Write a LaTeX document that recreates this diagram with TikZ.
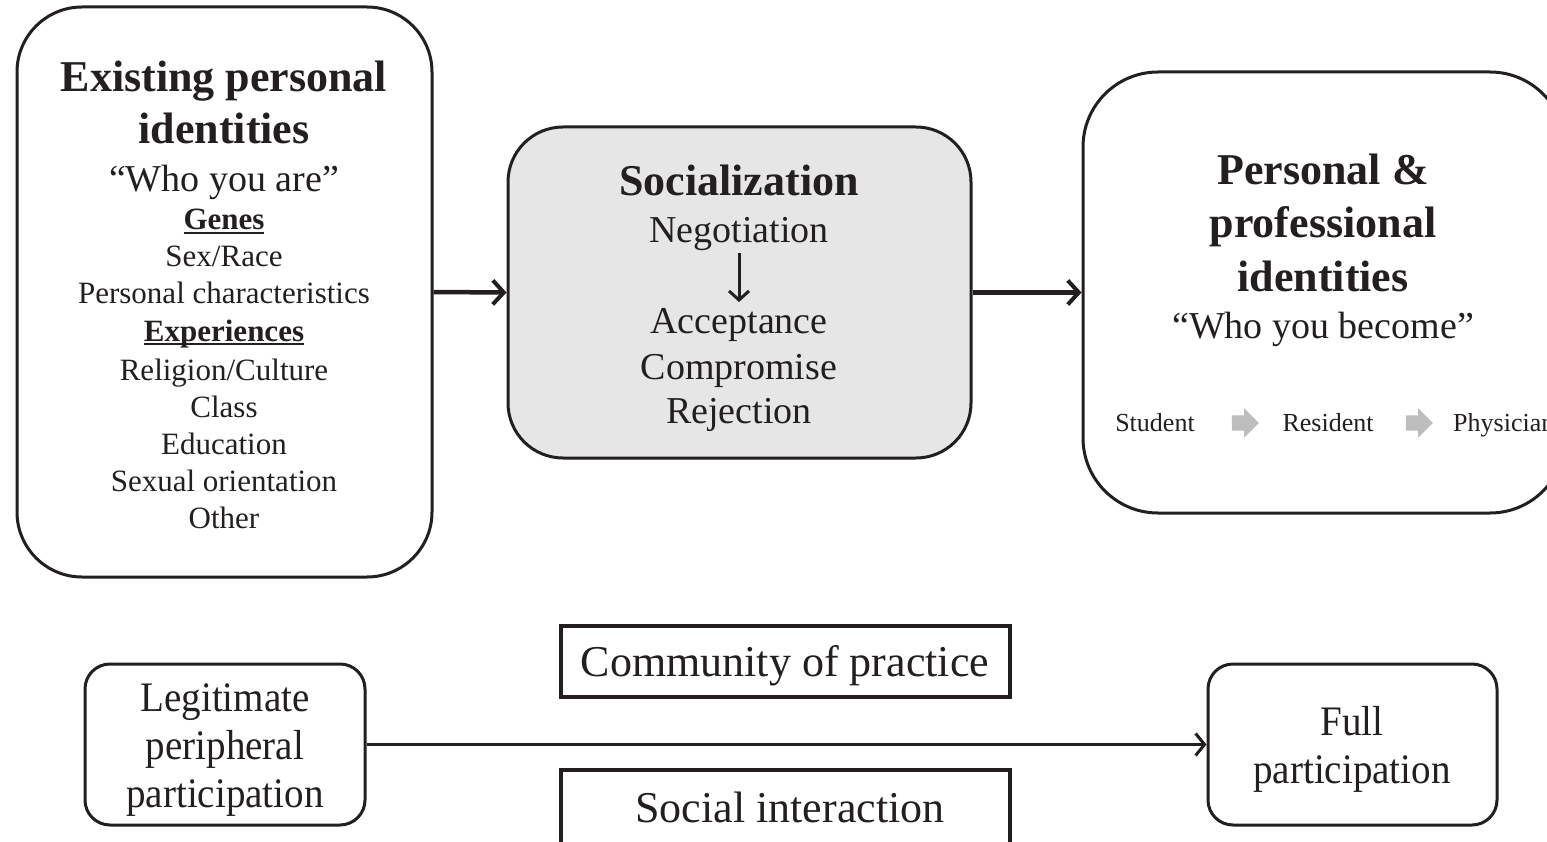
\documentclass[tikz,border=0pt]{standalone}
\usepackage{fontspec}
\setmainfont{Liberation Serif}
\usetikzlibrary{arrows.meta,shapes.arrows}
\definecolor{boxgray}{HTML}{E6E6E6}
\definecolor{arrgray}{HTML}{BDBDBD}
\definecolor{ink}{HTML}{231F20}
\newcommand\fTitle{\fontsize{44}{53}\selectfont\bfseries}
\newcommand\fQuote{\fontsize{38}{45}\selectfont}
\newcommand\fSmall{\fontsize{31}{37}\selectfont}
\newcommand\fMid{\fontsize{38}{45}\selectfont}
\newcommand\fTiny{\fontsize{26}{30}\selectfont}
\newcommand\fBot{\fontsize{42}{48}\selectfont}
\newcommand\fLab{\fontsize{44}{50}\selectfont}
\newcommand\myul[1]{\setbox0\hbox{#1}\rlap{\rule[-4.5pt]{\wd0}{2.2pt}}\box0}
\newcommand\narrow[1]{\scalebox{0.93}[1]{#1}}
\begin{document}
\begin{tikzpicture}[x=1pt,y=-1pt,
  rbox/.style={draw=ink, line width=3pt, inner sep=0pt},
  sqbox/.style={draw=ink, line width=4pt, inner sep=0pt},
  txt/.style={inner sep=0pt, anchor=base, text=ink},
  bigarr/.style={draw=ink, line width=4.5pt, -{Straight Barb[length=11pt,width=24pt,line width=4pt]}},
  midarr/.style={draw=ink, line width=3pt, -{Straight Barb[length=9pt,width=20pt,line width=3pt]}},
  thinarr/.style={draw=ink, line width=3pt, -{Straight Barb[length=9pt,width=22pt,line width=3pt]}},
  grayarr/.style={single arrow, fill=arrgray, draw=none, inner sep=7.5pt, minimum height=27pt, minimum width=29pt, single arrow head extend=7pt}]
\useasboundingbox (0,0) rectangle (1547,842);
\clip (0,0) rectangle (1547,842);
\fill[white] (0,0) rectangle (1547,842);

% main boxes
\node[rbox, rounded corners=65pt, minimum width=415pt, minimum height=570pt] (left) at (224.5,292) {};
\node[rbox, fill=boxgray, rounded corners=55pt, minimum width=463pt, minimum height=331pt] (mid) at (739.5,292.5) {};
\node[rbox, rounded corners=75pt, minimum width=482pt, minimum height=441pt] (right) at (1324,292.5) {};

% left text
\node[txt, font=\fTitle] (l1) at (224,92) {Existing personal};
\node[txt, font=\fTitle] (l2) at (224,144) {identities};
\node[txt, font=\fQuote] (l3) at (224,192) {“Who you are”};
\node[txt, font=\fSmall\bfseries] (l4) at (224,230) {\myul{Genes}};
\node[txt, font=\fSmall] (l5) at (224,267) {Sex/Race};
\node[txt, font=\fSmall] (l6) at (224,304) {Personal characteristics};
\node[txt, font=\fSmall\bfseries] (l7) at (224,341) {\myul{Experiences}};
\node[txt, font=\fSmall] (l8) at (224,380) {Religion/Culture};
\node[txt, font=\fSmall] (l9) at (224,417) {Class};
\node[txt, font=\fSmall] (l10) at (224,454) {Education};
\node[txt, font=\fSmall] (l11) at (224,491) {Sexual orientation};
\node[txt, font=\fSmall] (l12) at (224,528) {Other};

% middle text
\node[txt, font=\fTitle] (m1) at (739,196) {Socialization};
\node[txt, font=\fMid] (m2) at (739,243) {Negotiation};
\node[txt, font=\fMid] (m3) at (739,333) {Acceptance};
\node[txt, font=\fMid] (m4) at (739,379) {Compromise};
\node[txt, font=\fMid] (m5) at (739,423) {Rejection};
\coordinate (na) at (739,253);
\coordinate (nb) at (739,302);
\draw[midarr] (na) -- (nb);

% right text
\node[txt, font=\fTitle] (r1) at (1323,185) {Personal \&};
\node[txt, font=\fTitle] (r2) at (1323,238) {professional};
\node[txt, font=\fTitle] (r3) at (1323,291) {identities};
\node[txt, font=\fQuote] (r4) at (1323,338) {“Who you become”};
\node[txt, font=\fTiny] (s1) at (1155,431) {Student};
\node[grayarr] (ga1) at (1241.5,423) {};
\node[txt, font=\fTiny] (s2) at (1328,431) {Resident};
\node[grayarr] (ga2) at (1415.5,423) {};
\node[txt, font=\fTiny, anchor=base west] (s3) at (1453,431) {Physician};

% connectors
\draw[bigarr] (left.east) -- (mid.west);
\draw[bigarr] (mid.east) -- (right.west);

% bottom row
\node[rbox, rounded corners=25pt, minimum width=280pt, minimum height=161pt] (lpp) at (225,744.5) {};
\node[rbox, rounded corners=25pt, minimum width=289pt, minimum height=161pt] (full) at (1352.5,744.5) {};
\node[txt, font=\fBot] (b1) at (225,711) {\narrow{Legitimate}};
\node[txt, font=\fBot] (b2) at (225,759) {\narrow{peripheral}};
\node[txt, font=\fBot] (b3) at (225,807) {\narrow{participation}};
\node[txt, font=\fBot] (f1) at (1352,735) {\narrow{Full}};
\node[txt, font=\fBot] (f2) at (1352,783) {\narrow{participation}};

\node[sqbox, minimum width=449pt, minimum height=71pt] (cop) at (785.5,661.5) {};
\node[txt, font=\fLab] (cop t) at (785,676) {Community of practice};
\node[sqbox, minimum width=449pt, minimum height=80pt] (soc) at (785.5,810) {};
\node[txt, font=\fLab] (soc t) at (790,822) {Social interaction};

\draw[thinarr] (lpp.east) -- (full.west);
\end{tikzpicture}
\end{document}
